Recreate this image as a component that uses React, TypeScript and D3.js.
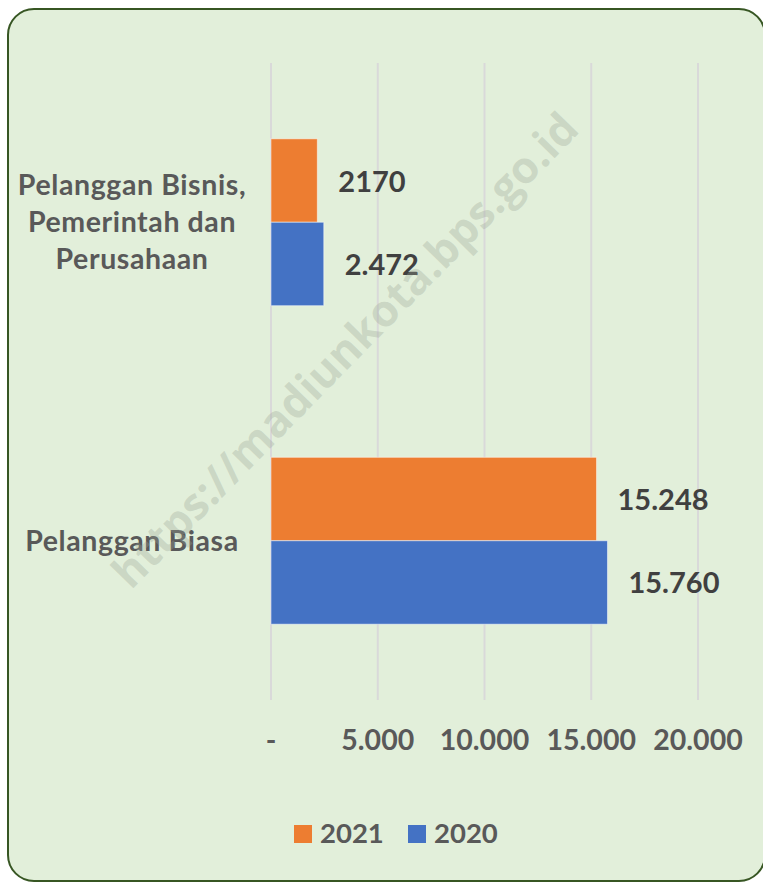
import React from "react";
import * as d3 from "d3";

// chart values
const categories = ["Pelanggan Bisnis, Pemerintah dan Perusahaan", "Pelanggan Biasa"];
const categoryLines = [["Pelanggan Bisnis,", "Pemerintah dan", "Perusahaan"], ["Pelanggan Biasa"]];
const seriesNames = ["2021", "2020"];
const values2021 = [2170, 15248];
const values2020 = [2472, 15760];
const valueLabels2021 = ["2170", "15.248"];
const valueLabels2020 = ["2.472", "15.760"];
const xTicks = [0, 5000, 10000, 15000, 20000];
const xTickLabels = ["-", "5.000", "10.000", "15.000", "20.000"];
const colors = ["#ED7D31", "#4472C4"];

const W = 763, H = 882;
const margin = { top: 63, left: 271, right: 65, bottom: 182 };
const FONT = "Lato, 'Open Sans', sans-serif";

const App = () => {
    const x = d3.scaleLinear()
        .domain([0, 20000])
        .range([margin.left, W - margin.right]);

    const y = d3.scaleBand<string>()
        .domain(categories)
        .range([margin.top, H - margin.bottom])
        .paddingInner(0.476)
        .paddingOuter(0.238);

    const ySeries = d3.scaleBand<string>()
        .domain(seriesNames)
        .range([0, y.bandwidth()]);

    const series = [
        { name: seriesNames[0], values: values2021, labels: valueLabels2021, color: colors[0] },
        { name: seriesNames[1], values: values2020, labels: valueLabels2020, color: colors[1] },
    ];

    return (
        <svg width={W} height={H} style={{ position: "absolute", left: 0, top: 0 }}>
            <rect x={8} y={9} width={757} height={872} rx={26} ry={26}
                fill="#E2EFDA" stroke="#375623" strokeWidth={2} />

            {/* gridlines */}
            {xTicks.map(t => (
                <line key={t} x1={x(t)} x2={x(t)} y1={margin.top} y2={H - margin.bottom}
                    stroke="#D9D9D9" strokeWidth={2} />
            ))}

            {/* bars */}
            {series.map(s => (
                <g key={s.name}>
                    {categories.map((c, i) => (
                        <rect key={c}
                            x={x(0)}
                            y={(y(c) ?? 0) + (ySeries(s.name) ?? 0)}
                            width={x(s.values[i]) - x(0)}
                            height={ySeries.bandwidth()}
                            fill={s.color}
                            stroke="#ffffff" strokeOpacity={0.5} strokeWidth={1} />
                    ))}
                    {categories.map((c, i) => (
                        <text key={c + "-l"}
                            x={x(s.values[i]) + 21}
                            y={(y(c) ?? 0) + (ySeries(s.name) ?? 0) + ySeries.bandwidth() / 2 + 11}
                            fontFamily={FONT} fontWeight="bold" fontSize={29} fill="#404040">
                            {s.labels[i]}
                        </text>
                    ))}
                </g>
            ))}

            {/* category labels */}
            {categories.map((c, i) => {
                const lines = categoryLines[i];
                const cy = (y(c) ?? 0) + y.bandwidth() / 2;
                const lh = 37;
                return (
                    <text key={c} textAnchor="middle" fontFamily={FONT} fontWeight="bold"
                        fontSize={28.5} letterSpacing={0.6} fill="#595959">
                        {lines.map((ln, j) => (
                            <tspan key={ln} x={132} y={cy + 10 + (j - (lines.length - 1) / 2) * lh}>{ln}</tspan>
                        ))}
                    </text>
                );
            })}

            {/* x axis labels */}
            {xTicks.map((t, i) => (
                <text key={t} x={x(t)} y={750} textAnchor="middle" fontFamily={FONT}
                    fontWeight="bold" fontSize={28.5} fill="#595959">
                    {xTickLabels[i]}
                </text>
            ))}

            {/* legend */}
            {seriesNames.map((n, i) => (
                <g key={n} transform={`translate(${294 + i * 114}, 825)`}>
                    <rect x={0} y={0} width={18} height={18} fill={colors[i]} />
                    <text x={26} y={18} fontFamily={FONT} fontWeight="bold" fontSize={27.5} fill="#595959">{n}</text>
                </g>
            ))}

            {/* watermark */}
            <text x={356} y={361} textAnchor="middle" transform="rotate(-45.6 356 361)"
                fontFamily="'Open Sans', sans-serif" fontWeight="bold" fontSize={44}
                fill="#9aa596" fillOpacity={0.33}>
                https://madiunkota.bps.go.id
            </text>
        </svg>
    );
};

export default App;
